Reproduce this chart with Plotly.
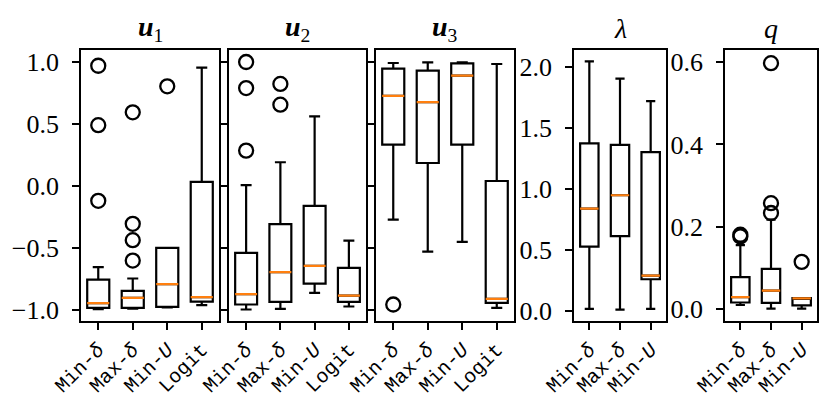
import plotly.graph_objects as go

# ---------------- data ----------------
labels4 = ["Min-<i>δ</i>", "Max-<i>δ</i>", "Min-<i>U</i>", "Logit"]
labels3 = ["Min-<i>δ</i>", "Max-<i>δ</i>", "Min-<i>U</i>"]

# u1
u1_lower = [-0.995, -0.990, -0.980, -0.962]
u1_q1 = [-0.984, -0.984, -0.976, -0.933]
u1_median = [-0.946, -0.903, -0.793, -0.898]
u1_q3 = [-0.756, -0.847, -0.500, 0.032]
u1_upper = [-0.656, -0.747, -0.500, 0.954]
u1_out = [[0.97, 0.49, -0.12], [0.594, -0.306, -0.438, -0.602], [0.804], []]

# u2
u2_lower = [-0.997, -0.992, -0.863, -0.973]
u2_q1 = [-0.957, -0.935, -0.788, -0.935]
u2_median = [-0.873, -0.696, -0.645, -0.885]
u2_q3 = [-0.540, -0.309, -0.161, -0.661]
u2_upper = [0.006, 0.191, 0.562, -0.441]
u2_out = [[1.0, 0.79, 0.285], [0.823, 0.656], [], []]

# u3
u3_lower = [-0.272, -0.530, -0.452, -0.984]
u3_q1 = [0.333, 0.185, 0.333, -0.944]
u3_median = [0.726, 0.677, 0.890, -0.911]
u3_q3 = [0.946, 0.930, 0.989, 0.040]
u3_upper = [0.992, 0.997, 0.997, 0.984]
u3_out = [[-0.957], [], [], []]

# lambda
lam_lower = [0.019, 0.013, 0.019]
lam_q1 = [0.530, 0.615, 0.262]
lam_median = [0.840, 0.950, 0.292]
lam_q3 = [1.375, 1.363, 1.303]
lam_upper = [2.047, 1.905, 1.721]
lam_out = [[], [], []]

# q
q_lower = [0.009, 0.0, 0.0]
q_q1 = [0.015, 0.014, 0.008]
q_median = [0.028, 0.044, 0.025]
q_q3 = [0.077, 0.097, 0.026]
q_upper = [0.155, 0.217, 0.026]
q_out = [[0.180, 0.176], [0.598, 0.257, 0.233], [0.114]]

titles = ["<b><i>u</i></b><sub>1</sub>", "<b><i>u</i></b><sub>2</sub>",
          "<b><i>u</i></b><sub>3</sub>", "<i>λ</i>", "<i>q</i>"]

panels = [
    (u1_lower, u1_q1, u1_median, u1_q3, u1_upper, u1_out, labels4),
    (u2_lower, u2_q1, u2_median, u2_q3, u2_upper, u2_out, labels4),
    (u3_lower, u3_q1, u3_median, u3_q3, u3_upper, u3_out, labels4),
    (lam_lower, lam_q1, lam_median, lam_q3, lam_upper, lam_out, labels3),
    (q_lower, q_q1, q_median, q_q3, q_upper, q_out, labels3),
]

# ---------------- layout geometry ----------------
W, H = 831, 398
xpix = [(73, 211), (221, 358), (368, 506), (566, 658), (717, 809)]
ytop, ybot = 42, 313
ydom = [1 - ybot / H, 1 - ytop / H]

SERIF = "Liberation Serif"
MONO = "Liberation Mono"
ORANGE = "#ff7f0e"

fig = go.Figure()

for i, (lo, q1, med, q3, up, outs, labs) in enumerate(panels):
    n = len(labs)
    pos = list(range(1, n + 1))
    xa = "x" if i == 0 else f"x{i+1}"
    ya = "y" if i == 0 else f"y{i+1}"
    bw = 0.64 if n == 4 else 0.6
    fig.add_trace(go.Box(
        x=pos, q1=q1, median=med, q3=q3, lowerfence=lo, upperfence=up,
        xaxis=xa, yaxis=ya, width=bw, whiskerwidth=0.5, boxpoints=False,
        line=dict(color="black", width=2.2), fillcolor="rgba(0,0,0,0)",
        showlegend=False, hoverinfo="skip",
    ))
    fig.add_trace(go.Box(
        x=pos, q1=med, median=med, q3=med, lowerfence=med, upperfence=med,
        xaxis=xa, yaxis=ya, width=bw, whiskerwidth=0, boxpoints=False,
        line=dict(color=ORANGE, width=2.2), fillcolor="rgba(0,0,0,0)",
        showlegend=False, hoverinfo="skip",
    ))
    ox, oy = [], []
    for p, vals in zip(pos, outs):
        for v in vals:
            ox.append(p)
            oy.append(v)
    if ox:
        fig.add_trace(go.Scatter(
            x=ox, y=oy, mode="markers", xaxis=xa, yaxis=ya,
            marker=dict(symbol="circle-open", size=14, color="black",
                        line=dict(width=2.3, color="black")),
            showlegend=False, hoverinfo="skip",
        ))

    x0, x1 = xpix[i]
    xax = dict(
        domain=[x0 / W, x1 / W], range=[0.5, n + 0.5],
        tickmode="array", tickvals=pos, ticktext=labs, tickangle=-45,
        ticks="outside", ticklen=7, tickwidth=1.6, tickcolor="black",
        showline=True, linecolor="black", linewidth=1.8, mirror=True,
        showgrid=False, zeroline=False, automargin=False,
        tickfont=dict(family=MONO, size=20, color="black"),
        anchor=ya,
    )
    yax = dict(
        domain=ydom, ticks="outside", ticklen=7, tickwidth=1.6, tickcolor="black",
        showline=True, linecolor="black", linewidth=1.8, mirror=True,
        showgrid=False, zeroline=False, automargin=False,
        tickfont=dict(family=SERIF, size=26, color="black"),
        tickformat=".1f", anchor=xa, ticklabelstandoff=8,
    )
    if i == 0:
        yax.update(range=[-1.09, 1.097], tickvals=[-1, -0.5, 0, 0.5, 1])
    elif i in (1, 2):
        yax.update(range=[-1.09, 1.097],
                   tickvals=[-1, -0.5, 0, 0.5, 1], showticklabels=False)
    elif i == 3:
        yax.update(range=[-0.08, 2.14], tickvals=[0, 0.5, 1, 1.5, 2])
    else:
        yax.update(range=[-0.03, 0.63], tickvals=[0, 0.2, 0.4, 0.6])

    xkey = "xaxis" if i == 0 else f"xaxis{i+1}"
    ykey = "yaxis" if i == 0 else f"yaxis{i+1}"
    fig.update_layout(**{xkey: xax, ykey: yax})

    fig.add_annotation(
        text=titles[i], xref="paper", yref="paper",
        x=(x0 + x1) / 2 / W, y=1 - 20 / H, xanchor="center", yanchor="middle",
        showarrow=False, font=dict(family=SERIF, size=28, color="black"),
    )

fig.update_layout(
    width=W, height=H, margin=dict(l=0, r=0, t=0, b=0),
    paper_bgcolor="white", plot_bgcolor="white",
    boxmode="overlay", showlegend=False,
)

fig.write_html("out.html")
